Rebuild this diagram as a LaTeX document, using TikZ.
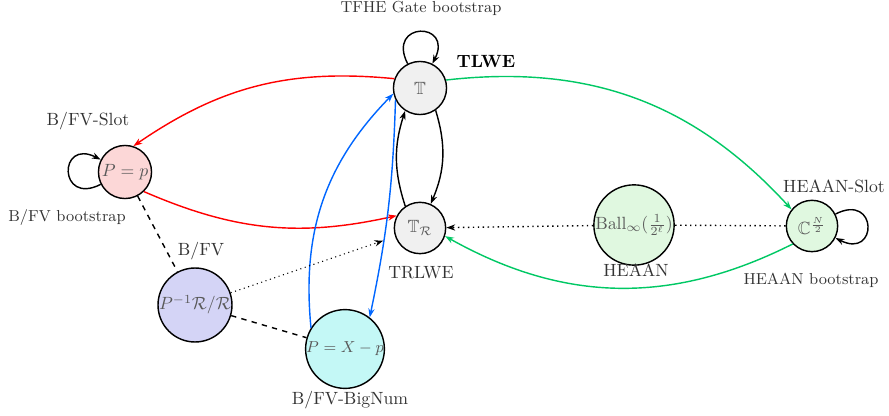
\documentclass[tikz,border=0pt]{standalone}
\usepackage{amsmath,amssymb}
\usetikzlibrary{arrows.meta}

\definecolor{heaangreen}{RGB}{0,200,100}
\definecolor{bignumblue}{RGB}{0,102,255}
\definecolor{tfhegray}{RGB}{240,240,240}
\definecolor{slotpink}{RGB}{252,215,215}
\definecolor{bfvlavender}{RGB}{212,212,246}
\definecolor{bignumcyan}{RGB}{196,248,246}
\definecolor{heaanmint}{RGB}{224,248,224}

\begin{document}
\begin{tikzpicture}[x=0.565pt,y=-0.565pt,>={Stealth[length=5pt,width=3.5pt]}]
        % Define styles for shapes
        \tikzstyle{scheme} = [circle, draw, thick, inner sep=0pt, minimum size=30pt, text=black!65]
        \tikzstyle{bigscheme} = [scheme, minimum size=39.5pt]
        \tikzstyle{schemename} = [text=black!80]
        \tikzstyle{bootname} = [text=black!80, font=\small]
        \tikzstyle{link} = [->, thick]
        \tikzstyle{selfloop} = [loop, looseness=1, min distance=27pt]

        \useasboundingbox (0,0) rectangle (889,416);

        % Draw shapes
        \node[scheme, fill=tfhegray] (T) at (420,88) {$\mathbb{T}$};
        \node[scheme, fill=tfhegray, minimum size=29pt] (TR) at (420,228) {$\mathbb{T}_{\mathcal{R}}$};
        \node[scheme, fill=slotpink] (Pp) at (125,172) {$P=p$};
        \node[bigscheme, fill=bfvlavender] (Pinv) at (195,305) {$P^{-1}\mathcal{R}/\mathcal{R}$};
        \node[bigscheme, fill=bignumcyan, font=\small] (Pxp) at (345,349) {$P=X-p$};
        \node[bigscheme, fill=heaanmint] (Ball) at (634,225) {$\mathrm{Ball}_\infty(\frac{1}{2^\ell})$};
        \node[scheme, fill=heaanmint, minimum size=29pt] (C) at (812,226) {$\mathbb{C}^{\frac{N}{2}}$};

        % Names of the schemes
        \node[bootname] (tfheboot) at (421,8) {TFHE Gate bootstrap};
        \node[font=\bfseries] (tlwe) at (486,62) {TLWE};
        \node[schemename] (bfvslot) at (88,121) {B/FV-Slot};
        \node[bootname] (bfvboot) at (67,218) {B/FV bootstrap};
        \node[schemename] (bfv) at (201,251) {B/FV};
        \node[schemename] (trlwe) at (421,273) {TRLWE};
        \node[schemename] (bignum) at (350,400) {B/FV-BigNum};
        \node[schemename] (heaan) at (636,270) {HEAAN};
        \node[schemename] (heaanslot) at (834,186) {HEAAN-Slot};
        \node[bootname] (heaanboot) at (811,280) {HEAAN bootstrap};

        % Draw links
        \draw[link] (T) edge[selfloop, out=117, in=63] (T);
        \draw[link] (Pp) edge[selfloop, out=207, in=153] (Pp);
        \draw[link] (C) edge[selfloop, out=27, in=-27] (C);
        \draw[link] (T.-55) to[bend left=20] (TR.66);
        \draw[link] (TR.124) to[bend left=18] (T.237);

        \draw[link, red] (T.160) to[bend right=20] (Pp.72);
        \draw[link, red] (Pp.-46) to[bend right=18] (TR.152);

        \draw[link, heaangreen] (T.17) to[bend left=27] (C.141);
        \draw[link, heaangreen] (C.223) to[bend left=28] (TR.-18);

        \draw[link, bignumblue] (Pxp.148) to[bend left=25] (T.192);
        \draw[link, bignumblue] (T.206) to[bend left=5] (Pxp.52);

        \draw[dotted, thick] (C) -- (Ball);
        \draw[->, dotted, thick] (Ball) -- (TR);
        \draw[->, dotted, semithick, shorten >=7pt] (Pinv) -- (TR);

        \draw[dashed, thick] (Pp) -- (Pinv);
        \draw[dashed, thick] (Pinv) -- (Pxp);
\end{tikzpicture}
\end{document}
